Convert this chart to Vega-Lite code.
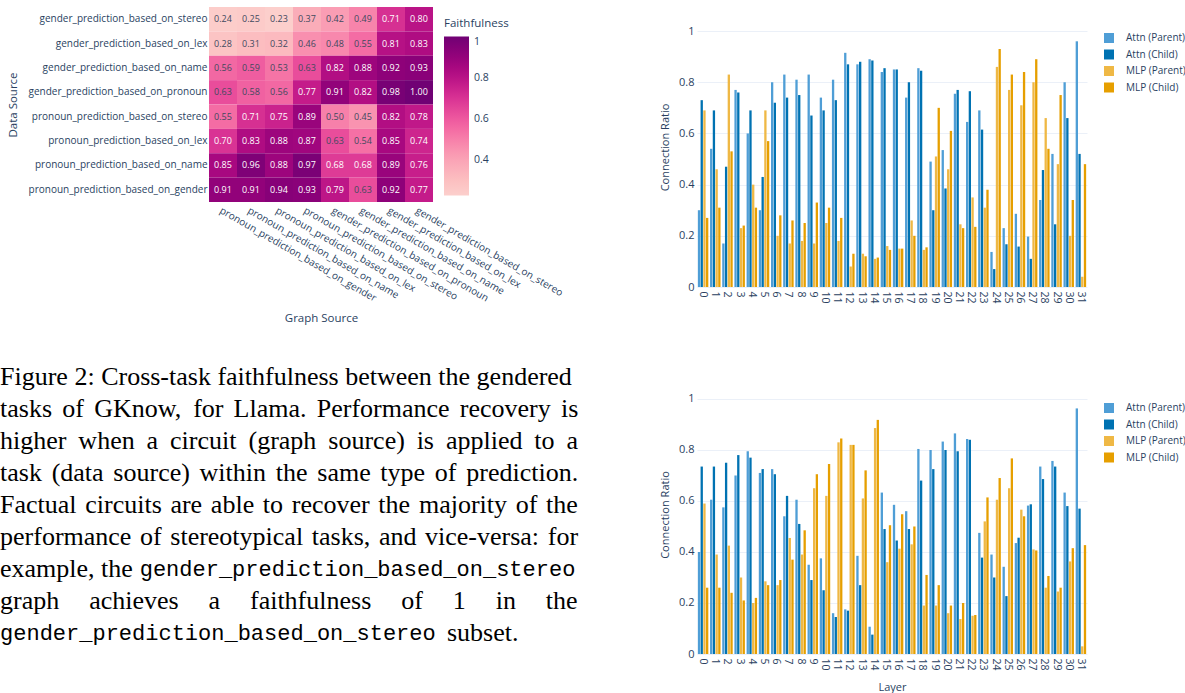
{
  "$schema": "https://vega.github.io/schema/vega-lite/v6.json",
  "background": "white",
  "padding": {"left": 0, "top": 7, "right": 0, "bottom": 0},
  "autosize": {"type": "pad"},
  "config": {
    "view": {"stroke": null},
    "font": "Open Sans",
    "axis": {"labelColor": "#2a3f5f", "titleColor": "#2a3f5f", "titleFontWeight": "normal", "domain": false, "ticks": false, "labelFont": "Open Sans", "titleFont": "Open Sans"},
    "legend": {"labelColor": "#2a3f5f", "titleColor": "#2a3f5f", "titleFontWeight": "normal", "labelFont": "Open Sans", "titleFont": "Open Sans"}
  },
  "datasets": {
    "heat": [
      {"src": "gender_prediction_based_on_stereo", "pronoun_prediction_based_on_gender": 0.24, "pronoun_prediction_based_on_name": 0.25, "pronoun_prediction_based_on_lex": 0.23, "pronoun_prediction_based_on_stereo": 0.37, "gender_prediction_based_on_pronoun": 0.42, "gender_prediction_based_on_name": 0.49, "gender_prediction_based_on_lex": 0.71, "gender_prediction_based_on_stereo": 0.80},
      {"src": "gender_prediction_based_on_lex", "pronoun_prediction_based_on_gender": 0.28, "pronoun_prediction_based_on_name": 0.31, "pronoun_prediction_based_on_lex": 0.32, "pronoun_prediction_based_on_stereo": 0.46, "gender_prediction_based_on_pronoun": 0.48, "gender_prediction_based_on_name": 0.55, "gender_prediction_based_on_lex": 0.81, "gender_prediction_based_on_stereo": 0.83},
      {"src": "gender_prediction_based_on_name", "pronoun_prediction_based_on_gender": 0.56, "pronoun_prediction_based_on_name": 0.59, "pronoun_prediction_based_on_lex": 0.53, "pronoun_prediction_based_on_stereo": 0.63, "gender_prediction_based_on_pronoun": 0.82, "gender_prediction_based_on_name": 0.88, "gender_prediction_based_on_lex": 0.92, "gender_prediction_based_on_stereo": 0.93},
      {"src": "gender_prediction_based_on_pronoun", "pronoun_prediction_based_on_gender": 0.63, "pronoun_prediction_based_on_name": 0.58, "pronoun_prediction_based_on_lex": 0.56, "pronoun_prediction_based_on_stereo": 0.77, "gender_prediction_based_on_pronoun": 0.91, "gender_prediction_based_on_name": 0.82, "gender_prediction_based_on_lex": 0.98, "gender_prediction_based_on_stereo": 1.00},
      {"src": "pronoun_prediction_based_on_stereo", "pronoun_prediction_based_on_gender": 0.55, "pronoun_prediction_based_on_name": 0.71, "pronoun_prediction_based_on_lex": 0.75, "pronoun_prediction_based_on_stereo": 0.89, "gender_prediction_based_on_pronoun": 0.50, "gender_prediction_based_on_name": 0.45, "gender_prediction_based_on_lex": 0.82, "gender_prediction_based_on_stereo": 0.78},
      {"src": "pronoun_prediction_based_on_lex", "pronoun_prediction_based_on_gender": 0.70, "pronoun_prediction_based_on_name": 0.83, "pronoun_prediction_based_on_lex": 0.88, "pronoun_prediction_based_on_stereo": 0.87, "gender_prediction_based_on_pronoun": 0.63, "gender_prediction_based_on_name": 0.54, "gender_prediction_based_on_lex": 0.85, "gender_prediction_based_on_stereo": 0.74},
      {"src": "pronoun_prediction_based_on_name", "pronoun_prediction_based_on_gender": 0.85, "pronoun_prediction_based_on_name": 0.96, "pronoun_prediction_based_on_lex": 0.88, "pronoun_prediction_based_on_stereo": 0.97, "gender_prediction_based_on_pronoun": 0.68, "gender_prediction_based_on_name": 0.68, "gender_prediction_based_on_lex": 0.89, "gender_prediction_based_on_stereo": 0.76},
      {"src": "pronoun_prediction_based_on_gender", "pronoun_prediction_based_on_gender": 0.91, "pronoun_prediction_based_on_name": 0.91, "pronoun_prediction_based_on_lex": 0.94, "pronoun_prediction_based_on_stereo": 0.93, "gender_prediction_based_on_pronoun": 0.79, "gender_prediction_based_on_name": 0.63, "gender_prediction_based_on_lex": 0.92, "gender_prediction_based_on_stereo": 0.77}
    ],
    "caption": [
      {"line": 1, "col": 0, "font": "serif", "t": "Figure 2: Cross-task faithfulness between the gendered"},
      {"line": 2, "col": 0, "font": "serif", "t": "tasks"},
      {"line": 2, "col": 4.68, "font": "serif", "t": "of"},
      {"line": 2, "col": 7.08, "font": "serif", "t": "GKnow,"},
      {"line": 2, "col": 14.52, "font": "serif", "t": "for"},
      {"line": 2, "col": 17.56, "font": "serif", "t": "Llama."},
      {"line": 2, "col": 23.81, "font": "serif", "t": "Performance"},
      {"line": 2, "col": 34.56, "font": "serif", "t": "recovery"},
      {"line": 2, "col": 42.17, "font": "serif", "t": "is"},
      {"line": 3, "col": 0, "font": "serif", "t": "higher"},
      {"line": 3, "col": 5.89, "font": "serif", "t": "when"},
      {"line": 3, "col": 11.02, "font": "serif", "t": "a"},
      {"line": 3, "col": 12.78, "font": "serif", "t": "circuit"},
      {"line": 3, "col": 18.68, "font": "serif", "t": "(graph"},
      {"line": 3, "col": 24.68, "font": "serif", "t": "source)"},
      {"line": 3, "col": 31.32, "font": "serif", "t": "is"},
      {"line": 3, "col": 33.53, "font": "serif", "t": "applied"},
      {"line": 3, "col": 40.17, "font": "serif", "t": "to"},
      {"line": 3, "col": 42.59, "font": "serif", "t": "a"},
      {"line": 4, "col": 0, "font": "serif", "t": "task"},
      {"line": 4, "col": 3.88, "font": "serif", "t": "(data"},
      {"line": 4, "col": 8.52, "font": "serif", "t": "source)"},
      {"line": 4, "col": 15.0, "font": "serif", "t": "within"},
      {"line": 4, "col": 20.73, "font": "serif", "t": "the"},
      {"line": 4, "col": 23.85, "font": "serif", "t": "same"},
      {"line": 4, "col": 28.59, "font": "serif", "t": "type"},
      {"line": 4, "col": 32.69, "font": "serif", "t": "of"},
      {"line": 4, "col": 35.05, "font": "serif", "t": "prediction."},
      {"line": 5, "col": 0, "font": "serif", "t": "Factual"},
      {"line": 5, "col": 6.41, "font": "serif", "t": "circuits"},
      {"line": 5, "col": 12.81, "font": "serif", "t": "are"},
      {"line": 5, "col": 15.85, "font": "serif", "t": "able"},
      {"line": 5, "col": 19.76, "font": "serif", "t": "to"},
      {"line": 5, "col": 21.93, "font": "serif", "t": "recover"},
      {"line": 5, "col": 28.44, "font": "serif", "t": "the"},
      {"line": 5, "col": 31.49, "font": "serif", "t": "majority"},
      {"line": 5, "col": 38.77, "font": "serif", "t": "of"},
      {"line": 5, "col": 41.05, "font": "serif", "t": "the"},
      {"line": 6, "col": 0, "font": "serif", "t": "performance"},
      {"line": 6, "col": 10.53, "font": "serif", "t": "of"},
      {"line": 6, "col": 12.8, "font": "serif", "t": "stereotypical"},
      {"line": 6, "col": 23.44, "font": "serif", "t": "tasks,"},
      {"line": 6, "col": 28.49, "font": "serif", "t": "and"},
      {"line": 6, "col": 31.95, "font": "serif", "t": "vice-versa:"},
      {"line": 6, "col": 41.18, "font": "serif", "t": "for"},
      {"line": 7, "col": 0, "font": "serif", "t": "example, the"},
      {"line": 7, "col": 10.5, "font": "mono", "t": "gender_prediction_based_on_stereo"},
      {"line": 8, "col": 0, "font": "serif", "t": "graph"},
      {"line": 8, "col": 6.7, "font": "serif", "t": "achieves"},
      {"line": 8, "col": 15.68, "font": "serif", "t": "a"},
      {"line": 8, "col": 18.79, "font": "serif", "t": "faithfulness"},
      {"line": 8, "col": 30.17, "font": "serif", "t": "of"},
      {"line": 8, "col": 34.04, "font": "serif", "t": "1"},
      {"line": 8, "col": 37.26, "font": "serif", "t": "in"},
      {"line": 8, "col": 41.03, "font": "serif", "t": "the"},
      {"line": 9, "col": 0, "font": "mono", "t": "gender_prediction_based_on_stereo"},
      {"line": 9, "col": 33.6, "font": "serif", "t": "subset."}
    ],
    "top": [
      {"layer": 0, "Attn (Parent)": 0.30, "Attn (Child)": 0.73, "MLP (Parent)": 0.69, "MLP (Child)": 0.27},
      {"layer": 1, "Attn (Parent)": 0.54, "Attn (Child)": 0.69, "MLP (Parent)": 0.46, "MLP (Child)": 0.31},
      {"layer": 2, "Attn (Parent)": 0.17, "Attn (Child)": 0.47, "MLP (Parent)": 0.83, "MLP (Child)": 0.53},
      {"layer": 3, "Attn (Parent)": 0.77, "Attn (Child)": 0.76, "MLP (Parent)": 0.23, "MLP (Child)": 0.24},
      {"layer": 4, "Attn (Parent)": 0.60, "Attn (Child)": 0.69, "MLP (Parent)": 0.40, "MLP (Child)": 0.31},
      {"layer": 5, "Attn (Parent)": 0.30, "Attn (Child)": 0.43, "MLP (Parent)": 0.69, "MLP (Child)": 0.57},
      {"layer": 6, "Attn (Parent)": 0.80, "Attn (Child)": 0.72, "MLP (Parent)": 0.20, "MLP (Child)": 0.28},
      {"layer": 7, "Attn (Parent)": 0.83, "Attn (Child)": 0.74, "MLP (Parent)": 0.17, "MLP (Child)": 0.26},
      {"layer": 8, "Attn (Parent)": 0.81, "Attn (Child)": 0.75, "MLP (Parent)": 0.18, "MLP (Child)": 0.25},
      {"layer": 9, "Attn (Parent)": 0.83, "Attn (Child)": 0.67, "MLP (Parent)": 0.17, "MLP (Child)": 0.33},
      {"layer": 10, "Attn (Parent)": 0.74, "Attn (Child)": 0.69, "MLP (Parent)": 0.25, "MLP (Child)": 0.31},
      {"layer": 11, "Attn (Parent)": 0.81, "Attn (Child)": 0.73, "MLP (Parent)": 0.18, "MLP (Child)": 0.27},
      {"layer": 12, "Attn (Parent)": 0.915, "Attn (Child)": 0.87, "MLP (Parent)": 0.08, "MLP (Child)": 0.13},
      {"layer": 13, "Attn (Parent)": 0.87, "Attn (Child)": 0.88, "MLP (Parent)": 0.13, "MLP (Child)": 0.12},
      {"layer": 14, "Attn (Parent)": 0.89, "Attn (Child)": 0.885, "MLP (Parent)": 0.11, "MLP (Child)": 0.115},
      {"layer": 15, "Attn (Parent)": 0.84, "Attn (Child)": 0.855, "MLP (Parent)": 0.16, "MLP (Child)": 0.145},
      {"layer": 16, "Attn (Parent)": 0.85, "Attn (Child)": 0.85, "MLP (Parent)": 0.15, "MLP (Child)": 0.15},
      {"layer": 17, "Attn (Parent)": 0.74, "Attn (Child)": 0.80, "MLP (Parent)": 0.26, "MLP (Child)": 0.20},
      {"layer": 18, "Attn (Parent)": 0.855, "Attn (Child)": 0.845, "MLP (Parent)": 0.145, "MLP (Child)": 0.155},
      {"layer": 19, "Attn (Parent)": 0.49, "Attn (Child)": 0.30, "MLP (Parent)": 0.51, "MLP (Child)": 0.70},
      {"layer": 20, "Attn (Parent)": 0.535, "Attn (Child)": 0.385, "MLP (Parent)": 0.46, "MLP (Child)": 0.61},
      {"layer": 21, "Attn (Parent)": 0.755, "Attn (Child)": 0.77, "MLP (Parent)": 0.245, "MLP (Child)": 0.23},
      {"layer": 22, "Attn (Parent)": 0.645, "Attn (Child)": 0.765, "MLP (Parent)": 0.35, "MLP (Child)": 0.235},
      {"layer": 23, "Attn (Parent)": 0.69, "Attn (Child)": 0.615, "MLP (Parent)": 0.31, "MLP (Child)": 0.38},
      {"layer": 24, "Attn (Parent)": 0.137, "Attn (Child)": 0.07, "MLP (Parent)": 0.86, "MLP (Child)": 0.93},
      {"layer": 25, "Attn (Parent)": 0.23, "Attn (Child)": 0.167, "MLP (Parent)": 0.77, "MLP (Child)": 0.83},
      {"layer": 26, "Attn (Parent)": 0.286, "Attn (Child)": 0.158, "MLP (Parent)": 0.71, "MLP (Child)": 0.84},
      {"layer": 27, "Attn (Parent)": 0.197, "Attn (Child)": 0.11, "MLP (Parent)": 0.80, "MLP (Child)": 0.89},
      {"layer": 28, "Attn (Parent)": 0.34, "Attn (Child)": 0.457, "MLP (Parent)": 0.66, "MLP (Child)": 0.54},
      {"layer": 29, "Attn (Parent)": 0.52, "Attn (Child)": 0.245, "MLP (Parent)": 0.48, "MLP (Child)": 0.75},
      {"layer": 30, "Attn (Parent)": 0.80, "Attn (Child)": 0.66, "MLP (Parent)": 0.20, "MLP (Child)": 0.34},
      {"layer": 31, "Attn (Parent)": 0.96, "Attn (Child)": 0.52, "MLP (Parent)": 0.04, "MLP (Child)": 0.48}
    ],
    "bottom": [
      {"layer": 0, "Attn (Parent)": 0.40, "Attn (Child)": 0.735, "MLP (Parent)": 0.59, "MLP (Child)": 0.26},
      {"layer": 1, "Attn (Parent)": 0.605, "Attn (Child)": 0.735, "MLP (Parent)": 0.39, "MLP (Child)": 0.26},
      {"layer": 2, "Attn (Parent)": 0.575, "Attn (Child)": 0.75, "MLP (Parent)": 0.425, "MLP (Child)": 0.24},
      {"layer": 3, "Attn (Parent)": 0.70, "Attn (Child)": 0.78, "MLP (Parent)": 0.30, "MLP (Child)": 0.21},
      {"layer": 4, "Attn (Parent)": 0.795, "Attn (Child)": 0.77, "MLP (Parent)": 0.20, "MLP (Child)": 0.22},
      {"layer": 5, "Attn (Parent)": 0.71, "Attn (Child)": 0.725, "MLP (Parent)": 0.285, "MLP (Child)": 0.27},
      {"layer": 6, "Attn (Parent)": 0.725, "Attn (Child)": 0.705, "MLP (Parent)": 0.27, "MLP (Child)": 0.29},
      {"layer": 7, "Attn (Parent)": 0.54, "Attn (Child)": 0.62, "MLP (Parent)": 0.455, "MLP (Child)": 0.37},
      {"layer": 8, "Attn (Parent)": 0.605, "Attn (Child)": 0.51, "MLP (Parent)": 0.39, "MLP (Child)": 0.485},
      {"layer": 9, "Attn (Parent)": 0.35, "Attn (Child)": 0.29, "MLP (Parent)": 0.65, "MLP (Child)": 0.705},
      {"layer": 10, "Attn (Parent)": 0.375, "Attn (Child)": 0.25, "MLP (Parent)": 0.62, "MLP (Child)": 0.745},
      {"layer": 11, "Attn (Parent)": 0.16, "Attn (Child)": 0.145, "MLP (Parent)": 0.83, "MLP (Child)": 0.845},
      {"layer": 12, "Attn (Parent)": 0.175, "Attn (Child)": 0.17, "MLP (Parent)": 0.82, "MLP (Child)": 0.82},
      {"layer": 13, "Attn (Parent)": 0.385, "Attn (Child)": 0.27, "MLP (Parent)": 0.61, "MLP (Child)": 0.72},
      {"layer": 14, "Attn (Parent)": 0.107, "Attn (Child)": 0.076, "MLP (Parent)": 0.886, "MLP (Child)": 0.918},
      {"layer": 15, "Attn (Parent)": 0.633, "Attn (Child)": 0.49, "MLP (Parent)": 0.36, "MLP (Child)": 0.505},
      {"layer": 16, "Attn (Parent)": 0.585, "Attn (Child)": 0.445, "MLP (Parent)": 0.413, "MLP (Child)": 0.548},
      {"layer": 17, "Attn (Parent)": 0.56, "Attn (Child)": 0.49, "MLP (Parent)": 0.43, "MLP (Child)": 0.50},
      {"layer": 18, "Attn (Parent)": 0.804, "Attn (Child)": 0.68, "MLP (Parent)": 0.19, "MLP (Child)": 0.31},
      {"layer": 19, "Attn (Parent)": 0.80, "Attn (Child)": 0.725, "MLP (Parent)": 0.19, "MLP (Child)": 0.27},
      {"layer": 20, "Attn (Parent)": 0.833, "Attn (Child)": 0.80, "MLP (Parent)": 0.16, "MLP (Child)": 0.19},
      {"layer": 21, "Attn (Parent)": 0.865, "Attn (Child)": 0.795, "MLP (Parent)": 0.137, "MLP (Child)": 0.20},
      {"layer": 22, "Attn (Parent)": 0.843, "Attn (Child)": 0.84, "MLP (Parent)": 0.15, "MLP (Child)": 0.153},
      {"layer": 23, "Attn (Parent)": 0.475, "Attn (Child)": 0.378, "MLP (Parent)": 0.52, "MLP (Child)": 0.614},
      {"layer": 24, "Attn (Parent)": 0.39, "Attn (Child)": 0.30, "MLP (Parent)": 0.605, "MLP (Child)": 0.69},
      {"layer": 25, "Attn (Parent)": 0.342, "Attn (Child)": 0.227, "MLP (Parent)": 0.65, "MLP (Child)": 0.767},
      {"layer": 26, "Attn (Parent)": 0.435, "Attn (Child)": 0.456, "MLP (Parent)": 0.566, "MLP (Child)": 0.54},
      {"layer": 27, "Attn (Parent)": 0.582, "Attn (Child)": 0.587, "MLP (Parent)": 0.41, "MLP (Child)": 0.406},
      {"layer": 28, "Attn (Parent)": 0.735, "Attn (Child)": 0.686, "MLP (Parent)": 0.26, "MLP (Child)": 0.306},
      {"layer": 29, "Attn (Parent)": 0.757, "Attn (Child)": 0.735, "MLP (Parent)": 0.245, "MLP (Child)": 0.26},
      {"layer": 30, "Attn (Parent)": 0.633, "Attn (Child)": 0.58, "MLP (Parent)": 0.363, "MLP (Child)": 0.415},
      {"layer": 31, "Attn (Parent)": 0.963, "Attn (Child)": 0.57, "MLP (Parent)": 0.03, "MLP (Child)": 0.427}
    ]
  },
  "hconcat": [
    {
      "vconcat": [
        {
          "width": 224,
          "height": 195,
          "data": {"name": "heat"},
          "transform": [{"fold": ["pronoun_prediction_based_on_gender", "pronoun_prediction_based_on_name", "pronoun_prediction_based_on_lex", "pronoun_prediction_based_on_stereo", "gender_prediction_based_on_pronoun", "gender_prediction_based_on_name", "gender_prediction_based_on_lex", "gender_prediction_based_on_stereo"], "as": ["graph", "v"]}],
          "encoding": {
            "x": {"field": "graph", "type": "nominal", "sort": ["pronoun_prediction_based_on_gender", "pronoun_prediction_based_on_name", "pronoun_prediction_based_on_lex", "pronoun_prediction_based_on_stereo", "gender_prediction_based_on_pronoun", "gender_prediction_based_on_name", "gender_prediction_based_on_lex", "gender_prediction_based_on_stereo"], "scale": {"paddingInner": 0, "paddingOuter": 0}, "axis": {"title": "Graph Source", "titleFontSize": 11.5, "titlePadding": 9, "labelAngle": 30, "labelAlign": "left", "labelBaseline": "top", "labelFontSize": 10, "labelPadding": 3}},
            "y": {"field": "src", "type": "nominal", "sort": ["gender_prediction_based_on_stereo", "gender_prediction_based_on_lex", "gender_prediction_based_on_name", "gender_prediction_based_on_pronoun", "pronoun_prediction_based_on_stereo", "pronoun_prediction_based_on_lex", "pronoun_prediction_based_on_name", "pronoun_prediction_based_on_gender"], "scale": {"paddingInner": 0, "paddingOuter": 0}, "axis": {"title": "Data Source", "titleFontSize": 11.5, "titlePadding": 10, "labelFontSize": 10, "labelPadding": 2}}
          },
          "layer": [
            {
              "mark": {"type": "rect"},
              "encoding": {
                "color": {"field": "v", "type": "quantitative", "scale": {"scheme": "redpurple", "domain": [0.23, 1]}, "legend": {"title": "Faithfulness", "titleFontSize": 11.5, "titlePadding": 7, "labelFontSize": 10.5, "values": [0.4, 0.6, 0.8, 1], "format": "~g", "gradientLength": 159, "gradientThickness": 25, "gradientStrokeWidth": 0, "offset": 0, "padding": 11, "labelOffset": 5}}
              }
            },
            {
              "mark": {"type": "text", "fontSize": 9},
              "encoding": {
                "text": {"field": "v", "type": "quantitative", "format": ".2f"},
                "color": {"condition": {"test": "datum.v > 0.65", "value": "white"}, "value": "#3f4a5e"}
              }
            }
          ]
        },
        {
          "width": 369,
          "height": 288,
          "data": {"name": "caption"},
          "encoding": {
            "x": {"field": "col", "type": "quantitative", "scale": {"domain": [15.71, 43.45]}, "axis": null},
            "y": {"field": "line", "type": "quantitative", "scale": {"domain": [0.5, 9.5], "reverse": true}, "axis": null},
            "text": {"field": "t"}
          },
          "layer": [
            {"transform": [{"filter": "datum.font == 'serif'"}], "mark": {"type": "text", "align": "left", "baseline": "middle", "font": "Liberation Serif", "fontSize": 26, "color": "black"}},
            {"transform": [{"filter": "datum.font == 'mono'"}], "mark": {"type": "text", "align": "left", "baseline": "middle", "font": "Liberation Mono", "fontSize": 22, "color": "black"}}
          ]
        }
      ],
      "spacing": 37,
      "bounds": "full",
      "resolve": {"scale": {"color": "independent"}, "legend": {"color": "independent"}}
    },
    {
      "vconcat": [
        {
          "width": 390,
          "height": 280,
          "data": {"name": "top"},
          "transform": [{"fold": ["Attn (Parent)", "Attn (Child)", "MLP (Parent)", "MLP (Child)"], "as": ["series", "ratio"]}],
          "mark": {"type": "bar"},
          "encoding": {
            "x": {"field": "layer", "type": "ordinal", "scale": {"paddingInner": 0.14, "paddingOuter": 0.07}, "axis": {"title": null, "labelAngle": 90, "labelAlign": "left", "labelBaseline": "middle", "labelFontSize": 10.5, "labelPadding": 4, "grid": false}},
            "xOffset": {"field": "series", "type": "nominal", "sort": ["Attn (Parent)", "Attn (Child)", "MLP (Parent)", "MLP (Child)"], "scale": {"paddingInner": 0.15}},
            "y": {"field": "ratio", "type": "quantitative", "scale": {"domain": [0, 1.094], "nice": false}, "axis": {"title": "Connection Ratio", "titleFontSize": 11, "titlePadding": 8, "values": [0, 0.2, 0.4, 0.6, 0.8, 1], "format": "~g", "labelFontSize": 11, "labelPadding": 3, "grid": true, "gridColor": "#ebf0f8"}},
            "color": {"field": "series", "type": "nominal", "sort": ["Attn (Parent)", "Attn (Child)", "MLP (Parent)", "MLP (Child)"], "scale": {"domain": ["Attn (Parent)", "Attn (Child)", "MLP (Parent)", "MLP (Child)"], "range": ["#4f9ed6", "#0072b2", "#efb845", "#e69f00"]}, "legend": {"title": null, "orient": "right", "symbolType": "square", "symbolSize": 100, "symbolStrokeWidth": 0, "labelFontSize": 10, "labelOffset": 12, "rowPadding": 6.5, "padding": 26, "offset": -9}}
          }
        },
        {
          "width": 390,
          "height": 279,
          "data": {"name": "bottom"},
          "transform": [{"fold": ["Attn (Parent)", "Attn (Child)", "MLP (Parent)", "MLP (Child)"], "as": ["series", "ratio"]}],
          "mark": {"type": "bar"},
          "encoding": {
            "x": {"field": "layer", "type": "ordinal", "scale": {"paddingInner": 0.14, "paddingOuter": 0.07}, "axis": {"title": "Layer", "titleFontSize": 11, "titlePadding": 11, "labelAngle": 90, "labelAlign": "left", "labelBaseline": "middle", "labelFontSize": 10.5, "labelPadding": 4, "grid": false}},
            "xOffset": {"field": "series", "type": "nominal", "sort": ["Attn (Parent)", "Attn (Child)", "MLP (Parent)", "MLP (Child)"], "scale": {"paddingInner": 0.15}},
            "y": {"field": "ratio", "type": "quantitative", "scale": {"domain": [0, 1.094], "nice": false}, "axis": {"title": "Connection Ratio", "titleFontSize": 11, "titlePadding": 8, "values": [0, 0.2, 0.4, 0.6, 0.8, 1], "format": "~g", "labelFontSize": 11, "labelPadding": 3, "grid": true, "gridColor": "#ebf0f8"}},
            "color": {"field": "series", "type": "nominal", "sort": ["Attn (Parent)", "Attn (Child)", "MLP (Parent)", "MLP (Child)"], "scale": {"domain": ["Attn (Parent)", "Attn (Child)", "MLP (Parent)", "MLP (Child)"], "range": ["#4f9ed6", "#0072b2", "#efb845", "#e69f00"]}, "legend": {"title": null, "orient": "right", "symbolType": "square", "symbolSize": 100, "symbolStrokeWidth": 0, "labelFontSize": 10, "labelOffset": 12, "rowPadding": 6.5, "padding": 28, "offset": -11}}
          }
        }
      ],
      "spacing": 88,
      "bounds": "flush",
      "resolve": {"scale": {"color": "independent"}, "legend": {"color": "independent"}}
    }
  ],
  "spacing": 80,
  "bounds": "full",
  "align": "none",
  "resolve": {"scale": {"color": "independent"}, "legend": {"color": "independent"}}
}
